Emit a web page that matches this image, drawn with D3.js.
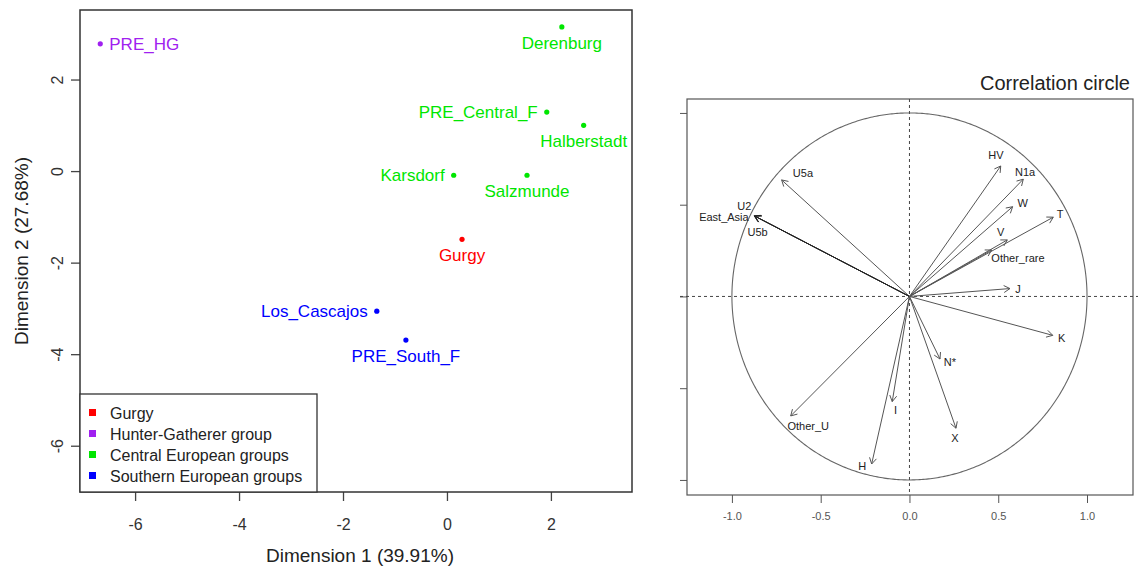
<!DOCTYPE html>
<html>
<head>
<meta charset="utf-8">
<title>MDS and correlation circle</title>
<script src="https://d3js.org/d3.v7.min.js"></script>
<style>
  body { margin: 0; background: #fff; }
  text { font-family: "Liberation Sans", Arial, sans-serif; }
</style>
</head>
<body>
<script>
// ---- left panel: MDS points ----
var sites = ["PRE_HG", "Derenburg", "PRE_Central_F", "Halberstadt", "Karsdorf", "Salzmunde", "Gurgy", "Los_Cascajos", "PRE_South_F"];
var dim1 = [-6.67, 2.21, 1.92, 2.63, 0.13, 1.54, 0.29, -1.35, -0.79];
var dim2 = [2.79, 3.16, 1.30, 1.01, -0.08, -0.08, -1.48, -3.05, -3.68];
var siteGroup = ["Hunter-Gatherer group", "Central European groups", "Central European groups", "Central European groups",
                 "Central European groups", "Central European groups", "Gurgy", "Southern European groups", "Southern European groups"];
// where the label sits relative to the point (R text pos: 1 below, 2 left, 4 right)
var labelPos = [4, 1, 2, 1, 2, 1, 1, 2, 1];
var groups = ["Gurgy", "Hunter-Gatherer group", "Central European groups", "Southern European groups"];
var groupColors = ["#ff0000", "#a020f0", "#00e600", "#0000ff"];
var xTicks1 = [-6, -4, -2, 0, 2];
var yTicks1 = [-6, -4, -2, 0, 2];

// ---- right panel: correlation circle ----
var haplo = ["U5a", "U2", "East_Asia", "U5b", "HV", "N1a", "W", "T", "V", "Other_rare", "J", "K", "N*", "X", "I", "H", "Other_U"];
var corr1 = [-0.72, -0.875, -0.87, -0.872, 0.514, 0.641, 0.581, 0.81, 0.551, 0.463, 0.566, 0.807, 0.172, 0.262, -0.097, -0.213, -0.669];
var corr2 = [0.635, 0.44, 0.437, 0.438, 0.711, 0.639, 0.489, 0.432, 0.308, 0.253, 0.043, -0.212, -0.341, -0.718, -0.573, -0.913, -0.651];
var lab1 = [-0.60, -0.93, -1.045, -0.855, 0.487, 0.651, 0.638, 0.848, 0.514, 0.611, 0.611, 0.857, 0.228, 0.256, -0.078, -0.266, -0.57];
var lab2 = [0.673, 0.493, 0.433, 0.351, 0.771, 0.678, 0.511, 0.45, 0.353, 0.211, 0.043, -0.228, -0.355, -0.773, -0.619, -0.922, -0.704];
var xTicks2 = [-1.0, -0.5, 0.0, 0.5, 1.0];
var yTicks2 = [-1.0, -0.5, 0.0, 0.5, 1.0];

var width = 1138, height = 577;
var svg = d3.select("body").append("svg").attr("width", width).attr("height", height);

// ================= left panel =================
var L = {left: 80, right: 632, top: 10, bottom: 492};
var x1 = d3.scaleLinear().domain([-7.06, 3.56]).range([L.left, L.right]);
var y1 = d3.scaleLinear().domain([-7.0, 3.53]).range([L.bottom, L.top]);
var col = d3.scaleOrdinal().domain(groups).range(groupColors);

// R style labels use a plain hyphen
var plain = function(d) { return String(d); };

var xAx1 = svg.append("g").attr("transform", "translate(0," + L.bottom + ")")
  .call(d3.axisBottom(x1).tickValues(xTicks1).tickSize(9).tickPadding(18).tickFormat(plain));
var yAx1 = svg.append("g").attr("transform", "translate(" + L.left + ",0)")
  .call(d3.axisLeft(y1).tickValues(yTicks1).tickSize(9).tickFormat(plain));
[xAx1, yAx1].forEach(function(a) {
  a.select(".domain").remove();
  a.selectAll("line").attr("stroke", "#444").attr("stroke-width", 1.3);
  a.selectAll("text").attr("fill", "#333").style("font-size", "16px")
   .style("font-family", "Liberation Sans, Arial, sans-serif");
});
yAx1.selectAll("text")
  .attr("x", null).attr("dy", null)
  .attr("text-anchor", "middle")
  .attr("transform", function(d) { return "translate(-17," + y1(d) + ") rotate(-90)"; })
  .attr("y", 0);
yAx1.selectAll(".tick").attr("transform", null);
yAx1.selectAll(".tick line").attr("transform", function(d) { return "translate(0," + y1(d) + ")"; });

svg.append("rect").attr("x", L.left).attr("y", L.top)
  .attr("width", L.right - L.left).attr("height", L.bottom - L.top)
  .attr("fill", "none").attr("stroke", "#333").attr("stroke-width", 1.5);

svg.append("text").attr("x", (L.left + L.right) / 2 + 4).attr("y", 562)
  .attr("text-anchor", "middle").style("font-size", "19px").attr("fill", "#222")
  .text("Dimension 1 (39.91%)");
svg.append("text").attr("transform", "translate(28," + ((L.top + L.bottom) / 2) + ") rotate(-90)")
  .attr("text-anchor", "middle").style("font-size", "19px").attr("fill", "#222")
  .text("Dimension 2 (27.68%)");

var pts = svg.append("g");
sites.forEach(function(s, i) {
  var px = x1(dim1[i]), py = y1(dim2[i]);
  var c = col(siteGroup[i]);
  pts.append("circle").attr("cx", px).attr("cy", py).attr("r", 2.6).attr("fill", c);
  var t = pts.append("text").attr("fill", c).style("font-size", "17px").text(s);
  if (labelPos[i] == 1) t.attr("x", px).attr("y", py + 22).attr("text-anchor", "middle");
  if (labelPos[i] == 2) t.attr("x", px - 9).attr("y", py + 6).attr("text-anchor", "end");
  if (labelPos[i] == 4) t.attr("x", px + 9).attr("y", py + 6).attr("text-anchor", "start");
});

// legend
var leg = svg.append("g");
leg.append("rect").attr("x", L.left).attr("y", 394).attr("width", 237).attr("height", L.bottom - 394)
  .attr("fill", "#fff").attr("stroke", "#333").attr("stroke-width", 1.3);
groups.forEach(function(g, i) {
  leg.append("rect").attr("x", 89).attr("y", 409 + i * 21).attr("width", 7).attr("height", 7).attr("fill", col(g));
  leg.append("text").attr("x", 110).attr("y", 419 + i * 21).style("font-size", "16px").attr("fill", "#222").text(g);
});

// ================= right panel =================
var R = {left: 687, right: 1133, top: 99, bottom: 495};
var x2 = d3.scaleLinear().domain([-1.253, 1.259]).range([R.left, R.right]);
var y2 = d3.scaleLinear().domain([-1.082, 1.076]).range([R.bottom, R.top]);

svg.append("text").attr("x", 1130).attr("y", 90).attr("text-anchor", "end")
  .style("font-size", "20px").attr("fill", "#222").text("Correlation circle");

var xAx2 = svg.append("g").attr("transform", "translate(0," + R.bottom + ")")
  .call(d3.axisBottom(x2).tickValues(xTicks2).tickSize(8).tickPadding(9)
    .tickFormat(function(d) { return d.toFixed(1); }));
var yAx2 = svg.append("g").attr("transform", "translate(" + R.left + ",0)")
  .call(d3.axisLeft(y2).tickValues(yTicks2).tickSize(7).tickFormat(""));
[xAx2, yAx2].forEach(function(a) {
  a.select(".domain").remove();
  a.selectAll("line").attr("stroke", "#555");
  a.selectAll("text").attr("fill", "#555").style("font-size", "11px")
   .style("font-family", "Liberation Sans, Arial, sans-serif");
});

svg.append("rect").attr("x", R.left).attr("y", R.top)
  .attr("width", R.right - R.left).attr("height", R.bottom - R.top)
  .attr("fill", "none").attr("stroke", "#555").attr("stroke-width", 1.2);

// unit circle
var circ = d3.line().x(function(a) { return x2(Math.cos(a)); }).y(function(a) { return y2(Math.sin(a)); });
svg.append("path").datum(d3.range(0, 2 * Math.PI + 0.01, 0.01))
  .attr("d", circ).attr("fill", "none").attr("stroke", "#666").attr("stroke-width", 1.1);

// dashed axes through origin
svg.append("line").attr("x1", 680).attr("x2", 1138).attr("y1", y2(0)).attr("y2", y2(0))
  .attr("stroke", "#444").attr("stroke-dasharray", "3,3");
svg.append("line").attr("x1", x2(0)).attr("x2", x2(0)).attr("y1", R.top).attr("y2", R.bottom)
  .attr("stroke", "#444").attr("stroke-dasharray", "3,3");

// arrows
var arr = svg.append("g").attr("stroke", "#555").attr("stroke-width", 1).attr("fill", "none");
haplo.forEach(function(h, i) {
  var ox = x2(0), oy = y2(0), tx = x2(corr1[i]), ty = y2(corr2[i]);
  var ang = Math.atan2(ty - oy, tx - ox), hl = 7, ha = Math.PI / 6;
  var dk = (h == "U2" || h == "East_Asia" || h == "U5b") ? "#222" : "#555";
  arr.append("line").attr("x1", ox).attr("y1", oy).attr("x2", tx).attr("y2", ty).attr("stroke", dk);
  arr.append("path").attr("stroke", dk)
    .attr("d", "M" + (tx - hl * Math.cos(ang - ha)) + "," + (ty - hl * Math.sin(ang - ha)) +
               "L" + tx + "," + ty +
               "L" + (tx - hl * Math.cos(ang + ha)) + "," + (ty - hl * Math.sin(ang + ha)));
  svg.append("text").attr("x", x2(lab1[i])).attr("y", y2(lab2[i]) + 4)
    .attr("text-anchor", "middle").style("font-size", "11px").attr("fill", "#222").text(h);
});
</script>
</body>
</html>
